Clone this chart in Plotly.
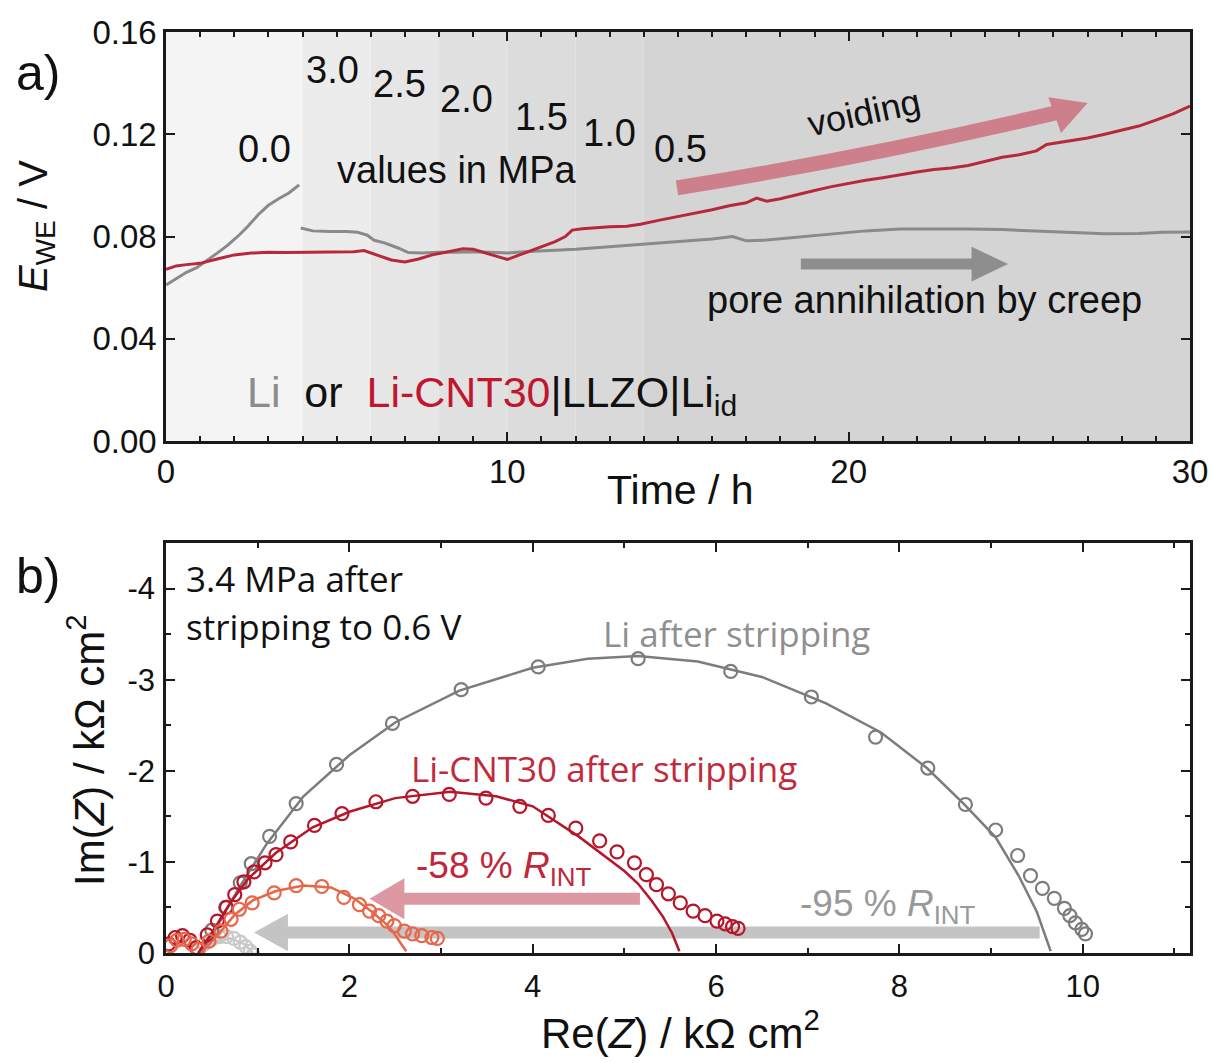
import plotly.graph_objects as go

W, H = 1214, 1063

# ---------------- Panel a data ----------------
band_edges = [0, 4, 6, 8, 10, 12, 14, 30]
band_colors = ["#f4f4f4", "#ececec", "#e6e6e6", "#e1e1e1", "#dcdcdc", "#d9d9d9", "#d4d4d4"]
pressure_labels = ["0.0", "3.0", "2.5", "2.0", "1.5", "1.0", "0.5"]

li_t1 = [0, 0.3, 0.6, 0.9, 1.2, 1.5, 1.8, 2.1, 2.4, 2.7, 3.0, 3.3, 3.6, 3.9]
li_v1 = [0.061, 0.0635, 0.066, 0.0678, 0.0705, 0.0735, 0.0765, 0.0800, 0.0840, 0.0885, 0.0922, 0.0948, 0.0970, 0.1002]

li_t2 = [3.95, 4.3, 4.8, 5.3, 5.6, 5.9, 6.1, 6.4, 6.8, 7.1, 7.5, 8.0, 8.5, 9.0, 9.5, 10.0, 10.5, 11.0,
         11.5, 12.0, 12.5, 13.0, 13.5, 14.0, 15.0, 16.0, 16.6, 17.0, 17.6, 18.5, 19.5, 20.5, 21.5, 22.5,
         23.5, 24.5, 25.5, 26.5, 27.5, 28.5, 29.2, 30.0]
li_v2 = [0.0833, 0.0822, 0.0820, 0.0820, 0.0817, 0.0805, 0.0785, 0.0775, 0.0755, 0.0737, 0.0735, 0.0738,
         0.0738, 0.0740, 0.0738, 0.0735, 0.0740, 0.0743, 0.0747, 0.0750, 0.0755, 0.0760, 0.0765, 0.0770,
         0.0778, 0.0790, 0.0800, 0.0783, 0.0786, 0.0798, 0.0810, 0.0822, 0.0829, 0.0830, 0.0829, 0.0827,
         0.0822, 0.0816, 0.0811, 0.0812, 0.0817, 0.0818]

cnt_t = [0, 0.3, 0.6, 1.0, 1.5, 2.0, 2.5, 3.0, 3.5, 4.0, 4.5, 5.0, 5.5, 5.8, 6.2, 6.6, 7.0, 7.4, 7.8, 8.2,
         8.7, 9.0, 9.4, 9.8, 10.0, 10.3, 10.7, 11.1, 11.4, 11.7, 11.9, 12.2, 12.6, 13.0, 13.5, 13.9, 14.5,
         15.0, 15.5, 16.0, 16.5, 17.0, 17.3, 17.6, 18.0, 18.5, 19.0, 19.5, 20.0, 20.5, 21.0, 21.5, 22.0,
         22.5, 23.0, 23.5, 24.0, 24.5, 25.0, 25.5, 25.8, 26.2, 27.0, 27.5, 28.0, 28.5, 29.0, 29.5, 30.0]
cnt_v = [0.0672, 0.0685, 0.0690, 0.0695, 0.0712, 0.0728, 0.0735, 0.0738, 0.0737, 0.0738, 0.0737, 0.0738,
         0.0740, 0.0745, 0.0728, 0.0708, 0.0700, 0.0712, 0.0728, 0.0738, 0.0752, 0.0750, 0.0735, 0.0718,
         0.0710, 0.0725, 0.0745, 0.0762, 0.0780, 0.0800, 0.0825, 0.0830, 0.0835, 0.0838, 0.0840, 0.0848,
         0.0865, 0.0878, 0.0890, 0.0905, 0.0920, 0.0932, 0.0950, 0.0938, 0.0948, 0.0965, 0.0980, 0.0995,
         0.1008, 0.1020, 0.1030, 0.1042, 0.1052, 0.1062, 0.1068, 0.1078, 0.1095, 0.1110, 0.1120, 0.1135,
         0.1160, 0.1168, 0.1185, 0.1200, 0.1215, 0.1232, 0.1255, 0.1280, 0.1310]

a_yticks = [0, 0.04, 0.08, 0.12, 0.16]
a_yticktext = ["0.00", "0.04", "0.08", "0.12", "0.16"]
a_xticks = [0, 10, 20, 30]

# ---------------- Panel b data ----------------
li_mx = [0.50, 0.65, 0.81, 0.93, 1.13, 1.42, 1.86, 2.47, 3.22, 4.06, 5.15, 6.16, 7.04, 7.74, 8.31, 8.72,
         9.05, 9.29, 9.43, 9.56, 9.69, 9.80, 9.86, 9.92, 9.99, 10.03]
li_my = [-0.25, -0.50, -0.77, -0.98, -1.28, -1.64, -2.07, -2.52, -2.89, -3.14, -3.23, -3.09, -2.81, -2.37,
         -2.03, -1.63, -1.35, -1.07, -0.85, -0.71, -0.60, -0.49, -0.41, -0.33, -0.26, -0.21]
li_fx = [0.38, 0.55, 0.80, 1.10, 1.50, 2.00, 2.50, 3.20, 4.00, 4.60, 5.15, 5.80, 6.50, 7.20, 7.80, 8.30,
         8.70, 9.05, 9.30, 9.50, 9.65]
li_fy = [0.0, -0.28, -0.72, -1.20, -1.72, -2.17, -2.53, -2.88, -3.13, -3.23, -3.26, -3.20, -3.03, -2.74,
         -2.42, -2.03, -1.64, -1.27, -0.85, -0.45, -0.02]

cnt_mx = [0.03, 0.10, 0.18, 0.26, 0.33, 0.45, 0.56, 0.66, 0.75, 0.85, 0.96, 1.08, 1.20, 1.36, 1.62, 1.92,
          2.29, 2.69, 3.09, 3.49, 3.86, 4.17, 4.47, 4.73, 4.92, 5.11, 5.24, 5.35, 5.48, 5.61, 5.75, 5.88,
          6.01, 6.10, 6.18, 6.24]
cnt_my = [-0.10, -0.17, -0.19, -0.14, -0.06, -0.20, -0.35, -0.50, -0.64, -0.78, -0.89, -0.99, -1.08,
          -1.22, -1.40, -1.53, -1.66, -1.72, -1.74, -1.70, -1.61, -1.51, -1.37, -1.23, -1.11, -0.99, -0.86,
          -0.75, -0.65, -0.55, -0.46, -0.41, -0.35, -0.32, -0.29, -0.27]
cnt_fx = [0.35, 0.50, 0.70, 0.90, 1.20, 1.60, 2.00, 2.50, 3.10, 3.60, 4.00, 4.50, 5.00, 5.15, 5.30, 5.42,
          5.52, 5.60]
cnt_fy = [0.0, -0.22, -0.55, -0.82, -1.10, -1.38, -1.55, -1.70, -1.77, -1.72, -1.61, -1.28, -0.90, -0.76,
          -0.57, -0.40, -0.22, -0.02]

cntr_mx = [0.05, 0.12, 0.20, 0.28, 0.35, 0.47, 0.60, 0.71, 0.80, 0.94, 1.18, 1.42, 1.70, 1.94, 2.11, 2.22,
           2.32, 2.41, 2.49, 2.60, 2.69, 2.79, 2.90, 2.96]
cntr_my = [-0.08, -0.14, -0.15, -0.10, -0.04, -0.13, -0.24, -0.37, -0.48, -0.55, -0.66, -0.74, -0.73, -0.61,
           -0.53, -0.46, -0.41, -0.35, -0.30, -0.24, -0.21, -0.19, -0.17, -0.16]
cntr_fx = [0.38, 0.55, 0.75, 0.95, 1.20, 1.50, 1.80, 2.05, 2.25, 2.40, 2.47, 2.55, 2.62]
cntr_fy = [0.0, -0.18, -0.42, -0.58, -0.68, -0.74, -0.72, -0.60, -0.45, -0.32, -0.24, -0.12, -0.02]

lir_mx = [0.35, 0.42, 0.50, 0.58, 0.66, 0.74, 0.81, 0.87, 0.92, 0.95]
lir_my = [-0.04, -0.10, -0.15, -0.18, -0.18, -0.16, -0.12, -0.07, -0.02, 0.02]
lir_fx = [0.40, 0.55, 0.70, 0.85, 0.95]
lir_fy = [0.0, -0.13, -0.16, -0.10, 0.0]

b_yticks = [0, -1, -2, -3, -4]
b_yticktext = ["0", "-1", "-2", "-3", "-4"]
b_xticks = [0, 2, 4, 6, 8, 10]

# ---------------- colours ----------------
RED = "#b5162a"
GRAY = "#7c7c7c"
ORANGE = "#e8664a"
LGRAY = "#c9c9c9"

FONT = "Liberation Sans, Arial, sans-serif"
FONT2 = "Open Sans, sans-serif"

fig = go.Figure()

# Panel a traces
fig.add_trace(go.Scatter(x=li_t1, y=li_v1, mode="lines", line=dict(color="#8a8a8a", width=3),
                         xaxis="x", yaxis="y", showlegend=False))
fig.add_trace(go.Scatter(x=li_t2, y=li_v2, mode="lines", line=dict(color="#8a8a8a", width=3),
                         xaxis="x", yaxis="y", showlegend=False))
fig.add_trace(go.Scatter(x=cnt_t, y=cnt_v, mode="lines", line=dict(color="#b8283c", width=3),
                         xaxis="x", yaxis="y", showlegend=False))

# Panel b traces
mk = lambda c: dict(symbol="circle-open", size=13, color=c, line=dict(width=2.2, color=c))
fig.add_trace(go.Scatter(x=lir_fx, y=lir_fy, mode="lines", line=dict(color=LGRAY, width=2.5),
                         xaxis="x2", yaxis="y2", showlegend=False))
fig.add_trace(go.Scatter(x=lir_mx, y=lir_my, mode="markers", marker=mk(LGRAY),
                         xaxis="x2", yaxis="y2", showlegend=False))
fig.add_trace(go.Scatter(x=li_fx, y=li_fy, mode="lines", line=dict(color=GRAY, width=2.5),
                         xaxis="x2", yaxis="y2", showlegend=False))
fig.add_trace(go.Scatter(x=li_mx, y=li_my, mode="markers", marker=mk(GRAY),
                         xaxis="x2", yaxis="y2", showlegend=False))
fig.add_trace(go.Scatter(x=cnt_fx, y=cnt_fy, mode="lines", line=dict(color=RED, width=2.5),
                         xaxis="x2", yaxis="y2", showlegend=False))
fig.add_trace(go.Scatter(x=cnt_mx, y=cnt_my, mode="markers", marker=mk(RED),
                         xaxis="x2", yaxis="y2", showlegend=False))
fig.add_trace(go.Scatter(x=cntr_fx, y=cntr_fy, mode="lines", line=dict(color=ORANGE, width=2.5),
                         xaxis="x2", yaxis="y2", showlegend=False))
fig.add_trace(go.Scatter(x=cntr_mx, y=cntr_my, mode="markers", marker=mk(ORANGE),
                         xaxis="x2", yaxis="y2", showlegend=False))

shapes = []
# background pressure bands
for i in range(len(band_colors)):
    shapes.append(dict(type="rect", xref="x", yref="y domain", x0=band_edges[i], x1=band_edges[i + 1],
                       y0=0, y1=1, fillcolor=band_colors[i], line=dict(width=0), layer="below"))

# voiding arrow (curved)
shapes.append(dict(type="path", xref="x", yref="y", layer="below",
                   path="M 14.97,0.0990 Q 20.49,0.1109 26.05,0.1283",
                   line=dict(color="#cd7f8b", width=15)))
shapes.append(dict(type="path", xref="x", yref="y", layer="below",
                   path="M 25.85,0.1345 L 27.0,0.1322 L 26.22,0.1205 Z",
                   fillcolor="#cd7f8b", line=dict(width=0)))
# creep arrow
shapes.append(dict(type="line", xref="x", yref="y", layer="below", x0=18.6, x1=23.7, y0=0.0692, y1=0.0692,
                   line=dict(color="#8e8e8e", width=11)))
shapes.append(dict(type="path", xref="x", yref="y", layer="below",
                   path="M 23.6,0.0760 L 24.67,0.0692 L 23.6,0.0624 Z",
                   fillcolor="#8e8e8e", line=dict(width=0)))
# -58 % arrow
shapes.append(dict(type="line", xref="x2", yref="y2", layer="below", x0=2.5, x1=5.17, y0=-0.595, y1=-0.595,
                   line=dict(color="#dc98a3", width=12)))
shapes.append(dict(type="path", xref="x2", yref="y2", layer="below",
                   path="M 2.6,-0.82 L 2.22,-0.595 L 2.6,-0.37 Z",
                   fillcolor="#dc98a3", line=dict(width=0)))
# -95 % arrow
shapes.append(dict(type="line", xref="x2", yref="y2", layer="below", x0=1.25, x1=9.53, y0=-0.225, y1=-0.225,
                   line=dict(color="#c4c4c4", width=12)))
shapes.append(dict(type="path", xref="x2", yref="y2", layer="below",
                   path="M 1.33,-0.43 L 0.96,-0.225 L 1.33,-0.02 Z",
                   fillcolor="#c4c4c4", line=dict(width=0)))


def P(px, py):
    return px / W, 1 - py / H


annotations = []


def ann(text, px, py, size, color="#111111", family=FONT, xanchor="center", angle=0):
    x, y = P(px, py)
    annotations.append(dict(text=text, x=x, y=y, xref="paper", yref="paper", xanchor=xanchor,
                            yanchor="middle", showarrow=False, textangle=angle,
                            font=dict(size=size, color=color, family=family)))


# panel labels
ann("a)", 38, 73, 50)
ann("b)", 38, 576, 50)

# pressure labels
label_pos = [(264, 149), (332, 70), (400, 84), (467, 99), (541, 117), (609, 133), (680, 149)]
for lab, (px, py) in zip(pressure_labels, label_pos):
    ann(lab, px, py, 38)
ann("values in MPa", 457, 170, 38)
ann("voiding", 864, 113, 36, angle=-12)
ann("pore annihilation by creep", 924, 300, 38)
ann('<span style="color:#8c8c8c">Li</span>\u00a0\u00a0or\u00a0\u00a0<span style="color:#c0162e">Li-CNT30</span>|LLZO|Li<sub>id</sub>',
    245, 395, 43, xanchor="left")

# axis titles a
ann("<i>E</i><sub>WE</sub> / V", 36, 226, 40, angle=-90)
ann("Time / h", 680, 490, 41)

# panel b texts
ann("3.4 MPa after", 184, 578, 35, family=FONT2, xanchor="left")
ann("stripping to 0.6 V", 184, 626, 35, family=FONT2, xanchor="left")
ann("Li after stripping", 736, 633, 35, color="#8f8f8f", family=FONT2)
ann("Li-CNT30 after stripping", 604, 768, 35, color="#c12a3b", family=FONT2)
ann("-58 % <i>R</i><sub>INT</sub>", 504, 868, 37, color="#c0283a")
ann("-95 % <i>R</i><sub>INT</sub>", 888, 906, 37, color="#999999")

ann("Im(<i>Z</i>) / kΩ cm<sup>2</sup>", 86, 750, 42, angle=-90)
ann("Re(<i>Z</i>) / kΩ cm<sup>2</sup>", 680, 1030, 42)

axis_common = dict(showline=True, linewidth=2.5, linecolor="#1a1a1a", mirror="allticks", ticks="inside",
                   tickwidth=2, tickcolor="#1a1a1a", showgrid=False, zeroline=False, automargin=False,
                   tickfont=dict(family=FONT, size=33, color="#111111"))
font_b = dict(family=FONT, size=31, color="#111111")
minor_common = dict(ticklen=5, ticks="inside", tickwidth=1.5, tickcolor="#1a1a1a")

fig.update_layout(
    width=W, height=H, autosize=False,
    margin=dict(l=0, r=0, t=0, b=0, autoexpand=False),
    paper_bgcolor="white", plot_bgcolor="white",
    showlegend=False,
    shapes=shapes, annotations=annotations,
    xaxis=dict(domain=[166 / W, 1190 / W], range=[0, 30], anchor="y", tickvals=a_xticks, ticklen=9,
               minor=dict(dtick=1, **minor_common), ticklabelstandoff=0, **axis_common),
    yaxis=dict(domain=[1 - 441 / H, 1 - 32 / H], range=[0, 0.16], anchor="x", tickvals=a_yticks,
               ticktext=a_yticktext, ticklen=9, ticklabelstandoff=0, **axis_common),
    xaxis2=dict(domain=[166 / W, 1190 / W], range=[0, 11.17], anchor="y2", tickvals=b_xticks, ticklen=9,
                minor=dict(dtick=1, **minor_common), ticklabelstandoff=4,
                **{**axis_common, "tickfont": font_b}),
    yaxis2=dict(domain=[1 - 953 / H, 1 - 543 / H], range=[0, -4.5], anchor="x2", tickvals=b_yticks,
                ticktext=b_yticktext, ticklen=9, minor=dict(dtick=0.5, **minor_common),
                ticklabelstandoff=2, **{**axis_common, "tickfont": font_b}),
)

fig.write_html("out.html")
